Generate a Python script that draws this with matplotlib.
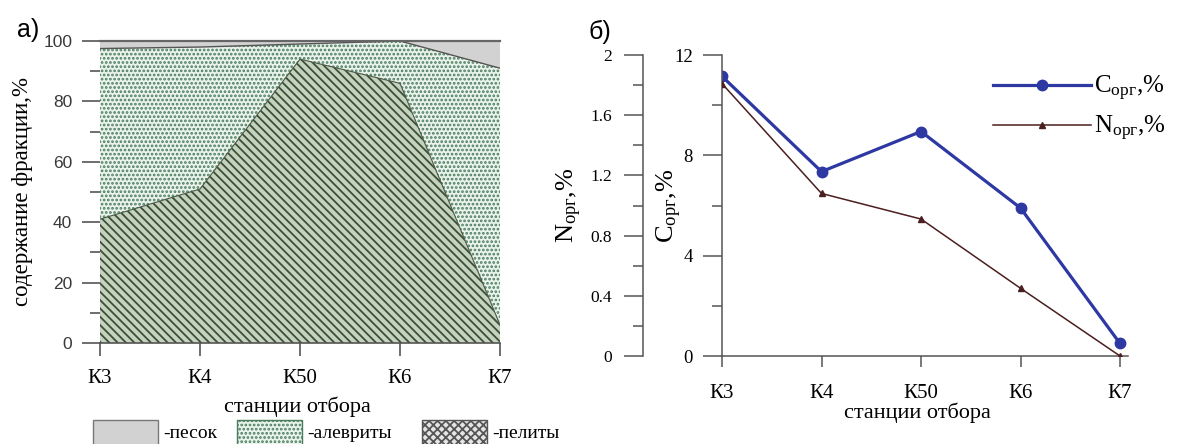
import matplotlib
matplotlib.use('Agg')
import matplotlib.pyplot as plt
from matplotlib.patches import Rectangle
from matplotlib.ticker import MultipleLocator, FuncFormatter

# данные
stations = ['К3', 'К4', 'К50', 'К6', 'К7']
pelite = [41, 51, 94, 86, 6]
aleurite = [56.5, 47, 5, 14, 85]
sand = [2.5, 2, 1, 0, 9]
c_org = [11.15, 7.35, 8.95, 5.9, 0.5]
n_org = [1.81, 1.08, 0.91, 0.45, 0.0]

W, H = 1192, 444
SERIF = 'Liberation Serif'
SANS = 'Liberation Sans'

plt.rcParams['font.family'] = SERIF
plt.rcParams['mathtext.fontset'] = 'custom'
plt.rcParams['mathtext.rm'] = SERIF
plt.rcParams['mathtext.it'] = SERIF + ':italic'
plt.rcParams['hatch.linewidth'] = 1.3

PELITE_FACE = '#c6d2c0'
PELITE_HATCH = '#3a5034'
ALEU_FACE = '#eaf3eb'
ALEU_HATCH = '#4a7c5e'
SAND_FACE = '#d2d2d2'
AXIS_GREY = '#555555'

fig = plt.figure(figsize=(W / 100, H / 100), dpi=100)

# ---------- а) ----------
ax1 = fig.add_axes([100 / W, 1 - 343 / H, 400 / W, 302 / H])
x = list(range(len(stations)))
top_aleu = [p + a for p, a in zip(pelite, aleurite)]
top_sand = [t + s for t, s in zip(top_aleu, sand)]

ax1.fill_between(x, 0, pelite, facecolor=PELITE_FACE, edgecolor=PELITE_HATCH,
                 hatch='\\' * 4, linewidth=0)
ax1.fill_between(x, pelite, top_aleu, facecolor=ALEU_FACE, edgecolor=ALEU_HATCH,
                 hatch='....', linewidth=0)
ax1.fill_between(x, top_aleu, top_sand, facecolor=SAND_FACE, linewidth=0)
ax1.plot(x, pelite, color='#4a5845', lw=0.8)
ax1.plot(x, top_aleu, color='#555555', lw=1.0)

ax1.set_xlim(0, 4)
ax1.set_ylim(0, 100)
ax1.set_xticks(x)
ax1.set_xticklabels(stations, fontsize=15)
ax1.yaxis.set_major_locator(MultipleLocator(20))
ax1.yaxis.set_minor_locator(MultipleLocator(10))
ax1.tick_params(axis='y', which='major', direction='out', length=13, width=1.2,
                color=AXIS_GREY, pad=7, labelsize=12.5, labelcolor='#3a3a3a')
ax1.tick_params(axis='y', which='minor', direction='out', length=7, width=1.2,
                color=AXIS_GREY)
ax1.tick_params(axis='x', direction='out', length=9, width=1.2, color=AXIS_GREY, pad=10)
for lab in ax1.get_yticklabels():
    lab.set_family(SANS)
ax1.spines['left'].set_visible(False)
ax1.spines['right'].set_visible(False)
ax1.spines['top'].set_color('#666666')
ax1.spines['top'].set_linewidth(1.6)
ax1.spines['bottom'].set_color(AXIS_GREY)
ax1.spines['bottom'].set_linewidth(1.2)
ax1.set_ylabel('содержание фракции,%', fontsize=16.5)
ax1.yaxis.set_label_coords(-0.1675, 0.5)

fig.text(297 / W, 1 - 407 / H, 'станции отбора', fontsize=16, ha='center', va='center')
fig.text(28 / W, 1 - 30 / H, 'а)', family=SANS, fontsize=18, ha='center', va='center')

# легенда внизу
boxes = [
    (93, '-песок', dict(facecolor=SAND_FACE, edgecolor='#777777')),
    (237, '-алевриты', dict(facecolor=ALEU_FACE, edgecolor=ALEU_HATCH, hatch='....')),
    (422, '-пелиты', dict(facecolor='#e4e4e4', edgecolor='#555555', hatch='xxxx')),
]
for bx, txt, style in boxes:
    fig.add_artist(Rectangle((bx / W, 1 - 450 / H), 65 / W, 30 / H,
                             transform=fig.transFigure, linewidth=1, **style))
    fig.text((bx + 70) / W, 1 - 433 / H, txt, fontsize=14, va='center')

# ---------- б) ----------
ax2 = fig.add_axes([722 / W, 1 - 356 / H, 406 / W, 301 / H])
l1, = ax2.plot(x, c_org, color='#2e38a3', lw=2.3, marker='o', ms=7.5,
               label='C$_{\\mathrm{орг}}$,%')
ax2.set_xlim(0, 406 / 99.5)
ax2.set_ylim(0, 12)
ax2.set_xticks(x)
ax2.set_xticklabels(stations, fontsize=15)
ax2.yaxis.set_major_locator(MultipleLocator(4))
ax2.yaxis.set_minor_locator(MultipleLocator(2))
ax2.tick_params(axis='y', which='major', direction='out', length=14, width=1.1,
                color=AXIS_GREY, pad=7, labelsize=13.5)
ax2.tick_params(axis='y', which='minor', direction='out', length=7, width=1.1,
                color=AXIS_GREY)
ax2.tick_params(axis='x', direction='out', length=8, width=1.1, color=AXIS_GREY, pad=12)
for s in ['top', 'right']:
    ax2.spines[s].set_visible(False)
for s in ['left', 'bottom']:
    ax2.spines[s].set_color(AXIS_GREY)
    ax2.spines[s].set_linewidth(1.1)
ax2.set_ylabel('C$_{\\mathrm{орг}}$,%', fontsize=19)
ax2.yaxis.set_label_coords(-0.093, 0.5)

ax3 = ax2.twinx()
l2, = ax3.plot(x, n_org, color='#4b1f1f', lw=1.1, marker='^', ms=4,
               label='N$_{\\mathrm{орг}}$,%')
ax3.set_ylim(0, 2)
for s in ['top', 'right', 'bottom']:
    ax3.spines[s].set_visible(False)
ax3.spines['left'].set_visible(True)
ax3.spines['left'].set_position(('outward', 57))
ax3.spines['left'].set_color(AXIS_GREY)
ax3.spines['left'].set_linewidth(1.1)
ax3.yaxis.set_ticks_position('left')
ax3.yaxis.set_label_position('left')
ax3.yaxis.set_major_locator(MultipleLocator(0.4))
ax3.yaxis.set_minor_locator(MultipleLocator(0.2))
ax3.yaxis.set_major_formatter(FuncFormatter(lambda v, p: '%g' % round(v, 2)))
ax3.tick_params(axis='y', which='major', direction='out', length=14, width=1.1,
                color=AXIS_GREY, pad=8, labelsize=12.5)
ax3.tick_params(axis='y', which='minor', direction='out', length=7, width=1.1,
                color=AXIS_GREY)
ax3.set_ylabel('N$_{\\mathrm{орг}}$,%', fontsize=19)
ax3.yaxis.set_label_coords(-0.34, 0.5)

ax2.legend(handles=[l1, l2], loc='upper left', frameon=False, fontsize=18,
           handlelength=3.9, handletextpad=0.12, labelspacing=0.45,
           borderpad=0, borderaxespad=0,
           bbox_to_anchor=(993 / W, 1 - 74 / H), bbox_transform=fig.transFigure)

fig.text(917 / W, 1 - 413 / H, 'станции отбора', fontsize=16, ha='center', va='center')
fig.text(600 / W, 1 - 32 / H, 'б)', family=SANS, fontsize=18, ha='center', va='center')

fig.savefig('out.png', dpi=100, facecolor='white')
